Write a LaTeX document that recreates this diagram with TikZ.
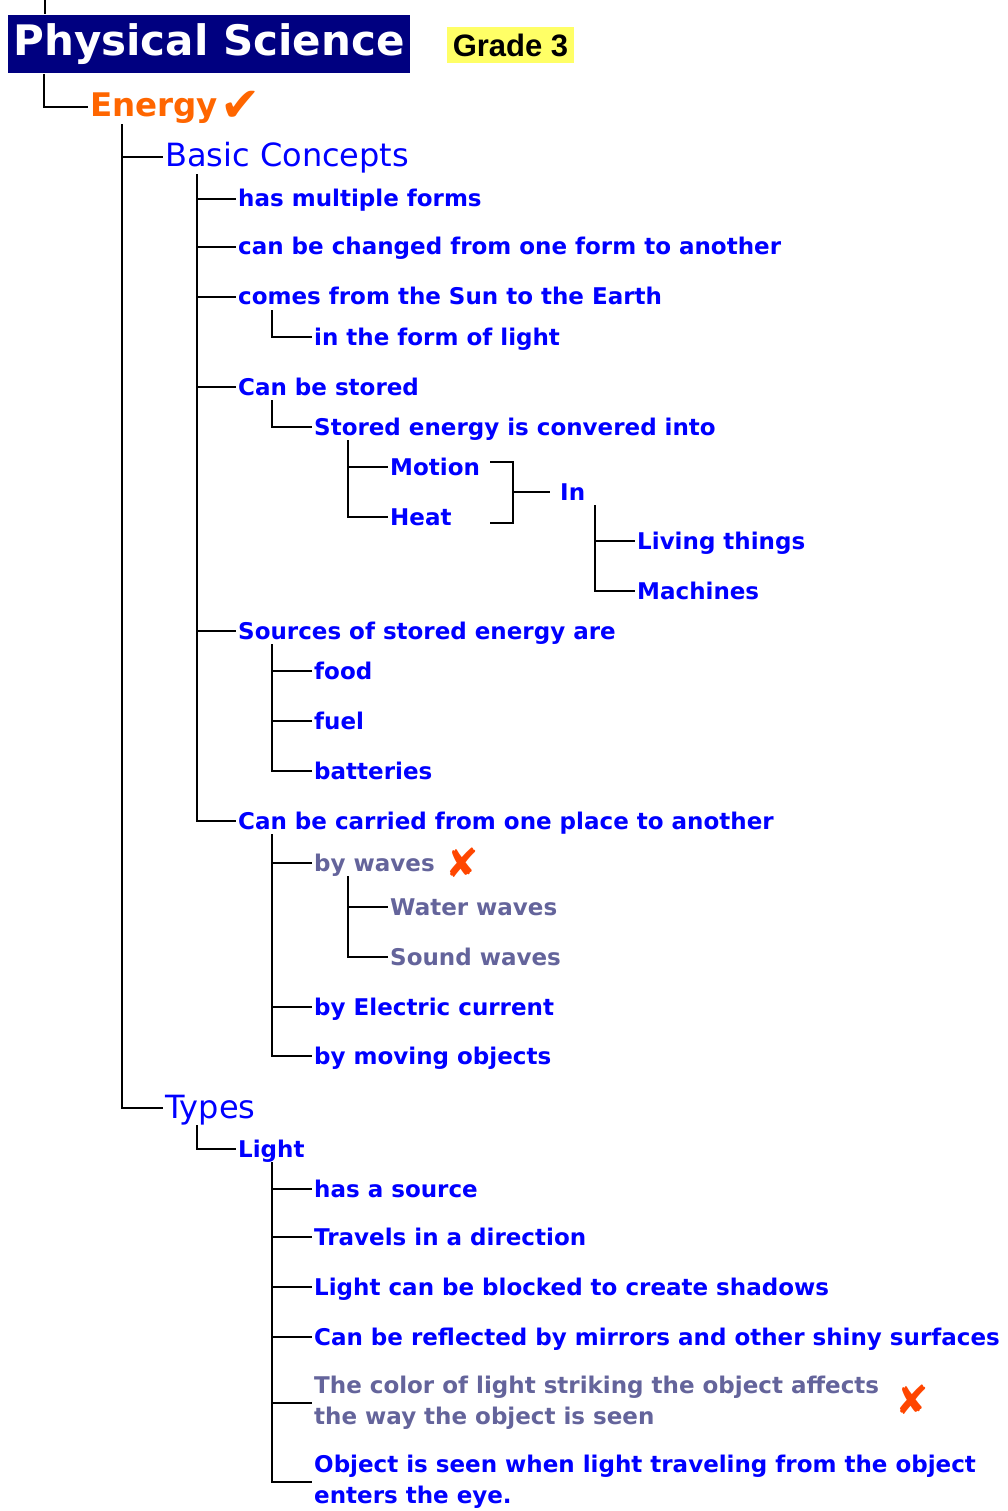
\documentclass[tikz,border=0pt]{standalone}
\usepackage{fontspec}
\setmainfont{DejaVu Sans}
\newfontfamily\gradefont{Liberation Sans}
\definecolor{itemblue}{RGB}{0,0,255}
\definecolor{itemgrey}{RGB}{100,100,155}
\definecolor{titlenavy}{RGB}{0,0,128}
\definecolor{gradeyellow}{RGB}{255,255,102}
\definecolor{energyorange}{RGB}{255,102,0}
\definecolor{markred}{RGB}{255,70,0}

\begin{document}
\begin{tikzpicture}[x=1pt, y=-1pt, line width=2.4pt,
	leaf node/.style={anchor=west, inner xsep=1pt, inner ysep=0pt, text height=20pt, text depth=4pt,
		text=itemblue, font=\bfseries\fontsize{23}{31}\selectfont},
	grey node/.style={leaf node, text=itemgrey},
	long node/.style={leaf node, text height=, text depth=, align=left},
	head node/.style={anchor=west, inner xsep=1pt, inner ysep=0pt, text height=26pt, text depth=6pt,
		text=itemblue, font=\fontsize{32}{36}\selectfont},
	mark node/.style={inner sep=0pt, text=markred, font=\fontsize{40}{44}\selectfont}]

	\useasboundingbox (0,0) rectangle (1007,1511);

	% heading
	\node[fill=titlenavy, text=white, minimum width=402pt, minimum height=58pt, inner sep=0pt,
		font=\bfseries\fontsize{42}{46}\selectfont] (title) at (209,44) {Physical Science};
	\node[fill=gradeyellow, minimum width=127pt, minimum height=36pt, inner sep=0pt,
		font=\gradefont\bfseries\fontsize{31}{34}\selectfont] (grade) at (510.5,45) {Grade 3};
	\coordinate (top) at (45,0);

	\node[head node, text=energyorange, font=\bfseries\fontsize{32.5}{36}\selectfont] (energy) at (88,107)
		{Energy\kern2pt\raisebox{-5pt}{\fontsize{48}{48}\selectfont✔}};
	\node[head node] (bc) at (163,157) {Basic Concepts};
	\node[head node] (types) at (163,1108) {Types};

	% basic concepts
	\node[leaf node] (forms) at (236,199) {has multiple forms};
	\node[leaf node] (changed) at (236,247) {can be changed from one form to another};
	\node[leaf node] (sun) at (236,297) {comes from the Sun to the Earth};
	\node[leaf node] (light1) at (312,337) {in the form of light};
	\node[leaf node] (stored) at (236,387) {Can be stored};
	\node[leaf node] (into) at (312,427) {Stored energy is convered into};
	\node[leaf node] (motion) at (388,467) {Motion};
	\node[leaf node] (heat) at (388,517) {Heat};
	\node[leaf node] (in) at (558,492) {In};
	\node[leaf node] (living) at (635,541) {Living things};
	\node[leaf node] (machines) at (635,591) {Machines};
	\node[leaf node] (sources) at (236,631) {Sources of stored energy are};
	\node[leaf node] (food) at (312,671) {food};
	\node[leaf node] (fuel) at (312,721) {fuel};
	\node[leaf node] (batteries) at (312,771) {batteries};
	\node[leaf node] (carried) at (236,821) {Can be carried from one place to another};
	\node[grey node] (waves) at (312,863) {by waves};
	\node[mark node] (x1) at (462,863) {✘};
	\node[grey node] (water) at (388,907) {Water waves};
	\node[grey node] (sound) at (388,957) {Sound waves};
	\node[leaf node] (current) at (312,1007) {by Electric current};
	\node[leaf node] (moving) at (312,1056) {by moving objects};

	% types
	\node[leaf node] (light) at (236,1149) {Light};
	\node[leaf node] (source) at (312,1189) {has a source};
	\node[leaf node] (travels) at (312,1237) {Travels in a direction};
	\node[leaf node] (blocked) at (312,1287) {Light can be blocked to create shadows};
	\node[leaf node] (mirrors) at (312,1337) {Can be reflected by mirrors and other shiny surfaces};
	\node[long node, text=itemgrey] (color) at (312,1403) {The color of light striking the object affects\\the way the object is seen};
	\node[mark node] (x2) at (912,1400) {✘};
	\node[long node] (eye) at (312,1482) {Object is seen when light traveling from the object\\enters the eye.};

	% tree lines
	\draw (top) -- (top |- title.north);
	\draw ([xshift=37pt]title.south west) |- (energy.west);
	\draw ([xshift=34pt]energy.south west) |- (bc.west)
		([xshift=34pt]energy.south west) |- (types.west);
	\foreach \c in {forms,changed,sun,stored,sources,carried}
		\draw ([xshift=34pt]bc.south west) |- (\c.west);
	\draw ([xshift=36pt]sun.south west) |- (light1.west);
	\draw ([xshift=36pt]stored.south west) |- (into.west);
	\foreach \c in {motion,heat}
		\draw ([xshift=36pt]into.south west) |- (\c.west);
	\coordinate (brk) at (513,492);
	\draw ([xshift=-23pt,yshift=30pt]brk) -| ([yshift=-31pt]brk) -- ++(-23,0);
	\draw (brk) -- ([xshift=-8pt]in.west);
	\foreach \c in {living,machines}
		\draw ([xshift=37pt]in.south west) |- (\c.west);
	\foreach \c in {food,fuel,batteries}
		\draw ([xshift=36pt]sources.south west) |- (\c.west);
	\foreach \c in {waves,current,moving}
		\draw ([xshift=36pt]carried.south west) |- (\c.west);
	\foreach \c in {water,sound}
		\draw ([xshift=36pt]waves.south west) |- (\c.west);
	\draw ([xshift=34pt]types.south west) |- (light.west);
	\foreach \c in {source,travels,blocked,mirrors,color,eye}
		\draw ([xshift=36pt]light.south west) |- (\c.west);
\end{tikzpicture}
\end{document}
